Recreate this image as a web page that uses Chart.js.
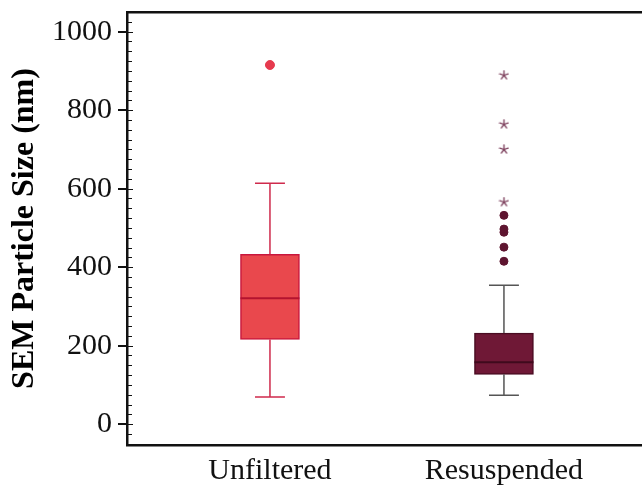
<!DOCTYPE html>
<html>
<head>
<meta charset="utf-8">
<script src="https://cdn.jsdelivr.net/npm/chart.js@4"></script>
<style>
  html, body { margin: 0; padding: 0; background: #fff; }
  #wrap { width: 642px; height: 485px; }
</style>
</head>
<body>
<div id="wrap"><canvas id="chart"></canvas></div>
<script>
// box plot values (nm)
var categories = ['Unfiltered', 'Resuspended'];
var q1 = [216, 127];
var median = [321, 158];
var q3 = [433, 232];
var whiskerLow = [69, 74];
var whiskerHigh = [614, 354];
var outliersUnfiltered = [915];
var outliersResuspended = [415, 451, 489, 497, 532];
var extremesResuspended = [566, 700, 764, 889];
var yTicks = [0, 200, 400, 600, 800, 1000];

var fills = ['#e9484d', '#6f1836'];
var borders = ['#c8173d', '#4a0c22'];
var whiskerColors = ['#cf2a4c', '#555555'];
var medianColors = ['#b3132f', '#3f0a1d'];

var CAP_HALF = 0.064;
var BOX_HALF = 0.126;

// five armed asterisk used for the extreme values
function asterisk(color){
    var c = document.createElement('canvas');
    c.width = 11; c.height = 11;
    var g = c.getContext('2d');
    g.strokeStyle = color;
    g.lineWidth = 1.3;
    g.lineCap = 'round';
    for (var k = 0; k < 5; k++) {
        var a = -Math.PI / 2 + k * 2 * Math.PI / 5;
        g.beginPath();
        g.moveTo(5.5, 5.5);
        g.lineTo(5.5 + 4.5 * Math.cos(a), 5.5 + 4.5 * Math.sin(a));
        g.stroke();
    }
    return c;
}

var datasets = [];
for (var i = 0; i < categories.length; i++) {
    var x = i + 1;
    datasets.push({
        type: 'line',
        order: 2,
        data: [
            {x: x, y: whiskerLow[i]}, {x: x, y: q1[i]}, {x: x, y: null},
            {x: x, y: q3[i]}, {x: x, y: whiskerHigh[i]}, {x: x, y: null},
            {x: x - CAP_HALF, y: whiskerHigh[i]}, {x: x + CAP_HALF, y: whiskerHigh[i]}, {x: x, y: null},
            {x: x - CAP_HALF, y: whiskerLow[i]}, {x: x + CAP_HALF, y: whiskerLow[i]}
        ],
        borderColor: whiskerColors[i],
        borderWidth: 1.5,
        pointRadius: 0,
        spanGaps: false,
        fill: false
    });
    datasets.push({
        type: 'line',
        order: 1,
        data: [{x: x - BOX_HALF, y: median[i]}, {x: x + BOX_HALF, y: median[i]}],
        borderColor: medianColors[i],
        borderWidth: 2,
        pointRadius: 0,
        fill: false
    });
}
datasets.push({
    type: 'bar',
    order: 3,
    data: categories.map(function(c, j){ return {x: j + 1, y: [q1[j], q3[j]]}; }),
    backgroundColor: fills,
    borderColor: borders,
    borderWidth: 1.5,
    borderSkipped: false,
    barThickness: 59
});
datasets.push({
    type: 'scatter',
    order: 0,
    data: outliersUnfiltered.map(function(v){ return {x: 1, y: v}; }),
    pointStyle: 'circle',
    pointRadius: 4.5,
    backgroundColor: '#e63a4e',
    borderColor: '#e63a4e'
});
datasets.push({
    type: 'scatter',
    order: 0,
    data: outliersResuspended.map(function(v){ return {x: 2, y: v}; }),
    pointStyle: 'circle',
    pointRadius: 4,
    backgroundColor: '#5e1530',
    borderColor: '#5e1530'
});
datasets.push({
    type: 'scatter',
    order: 0,
    data: extremesResuspended.map(function(v){ return {x: 2, y: v}; }),
    pointStyle: asterisk('#7b3d5a'),
    pointRadius: 5
});

// small inward ticks every 25 nm
var minorTicks = {
    id: 'minorTicks',
    afterDraw: function(chart){
        var y = chart.scales.y;
        var ctx = chart.ctx;
        var left = chart.chartArea.left;
        ctx.save();
        ctx.strokeStyle = '#111';
        ctx.lineWidth = 1;
        for (var v = -50; v <= 1050; v += 25) {
            var py = Math.round(y.getPixelForValue(v)) + 0.5;
            ctx.beginPath();
            ctx.moveTo(left, py);
            ctx.lineTo(left + (v % 200 === 0 ? 6 : 5), py);
            ctx.stroke();
        }
        ctx.restore();
    }
};

function noPad(scale){
    scale.paddingTop = 0; scale.paddingBottom = 0;
    scale.paddingLeft = 0; scale.paddingRight = 0;
}

var ctx = document.getElementById('chart').getContext('2d');
var myChart = new Chart(ctx, {
    data: { datasets: datasets },
    options: {
        responsive: true,
        maintainAspectRatio: false,
        animation: false,
        layout: { autoPadding: false, padding: { top: 12, right: 0, left: 0, bottom: 0 } },
        plugins: {
            legend: { display: false },
            tooltip: { enabled: false }
        },
        scales: {
            x: {
                type: 'linear',
                offset: false,
                min: 0.389,
                max: 2.59,
                afterBuildTicks: function(scale){
                    scale.ticks = [{value: 1}, {value: 2}];
                },
                afterFit: function(scale){ scale.height = 40; noPad(scale); },
                ticks: {
                    callback: function(v){ return categories[v - 1]; },
                    font: { family: 'Liberation Serif', size: 30 },
                    color: '#111',
                    padding: 0,
                    maxRotation: 0
                },
                grid: { display: false },
                border: { display: true, color: '#111', width: 2.5 }
            },
            x2: {
                type: 'linear',
                position: 'top',
                offset: false,
                min: 0.389,
                max: 2.59,
                afterFit: function(scale){ scale.height = 0; noPad(scale); },
                ticks: { display: false },
                grid: { display: false },
                border: { display: true, color: '#111', width: 2.5 }
            },
            y: {
                min: -53,
                max: 1050,
                afterBuildTicks: function(scale){
                    scale.ticks = yTicks.map(function(v){ return {value: v}; });
                },
                afterFit: function(scale){ scale.width = 127; noPad(scale); },
                ticks: {
                    callback: function(v){ return String(v); },
                    font: { family: 'Liberation Serif', size: 30 },
                    color: '#111',
                    padding: 6
                },
                grid: {
                    drawOnChartArea: false,
                    tickLength: 9,
                    tickColor: '#111',
                    lineWidth: 2
                },
                border: { display: true, color: '#111', width: 2.5 },
                title: {
                    display: true,
                    text: 'SEM Particle Size (nm)',
                    font: { family: 'Liberation Serif', size: 32, weight: 'bold' },
                    color: '#000',
                    padding: { top: 6, bottom: 0 }
                }
            }
        }
    },
    plugins: [minorTicks]
});
</script>
</body>
</html>
